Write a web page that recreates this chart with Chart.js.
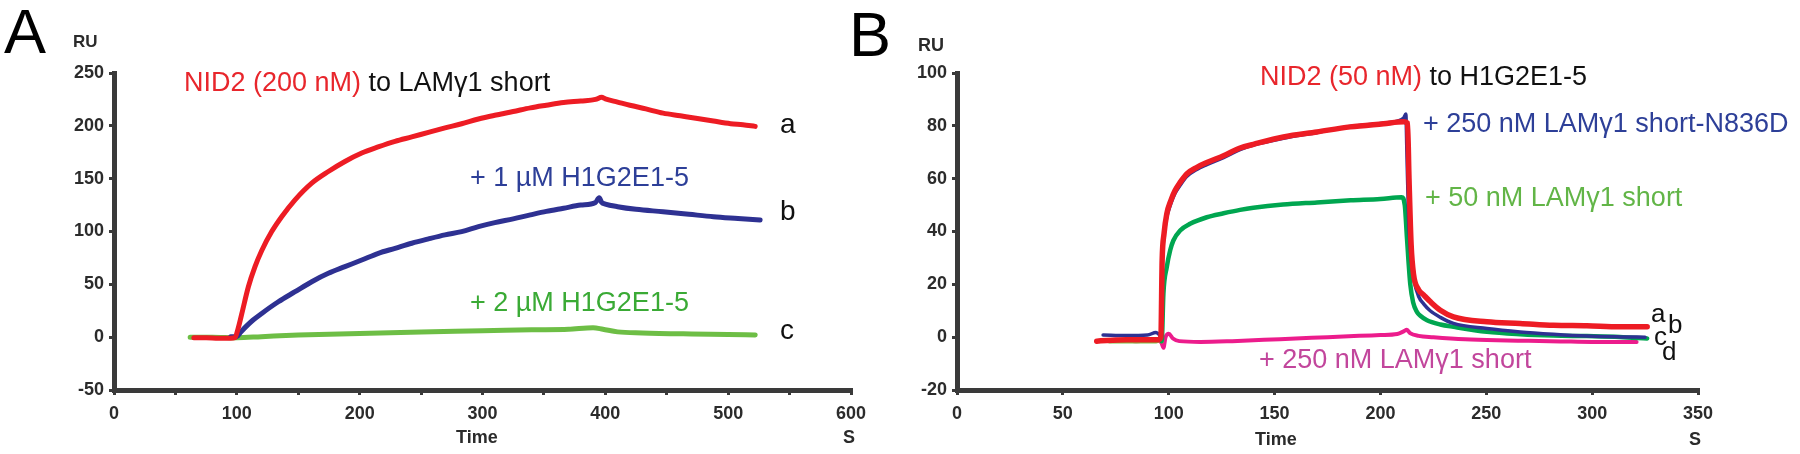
<!DOCTYPE html>
<html>
<head>
<meta charset="utf-8">
<script src="https://cdn.jsdelivr.net/npm/chart.js@4.4.1/dist/chart.umd.min.js"></script>
<style>
  html, body { margin:0; padding:0; background:#fff; }
  #wrap { position:relative; width:1800px; height:454px; overflow:hidden; background:#fff; }
  canvas { position:absolute; top:0; }
  .t { position:absolute; white-space:nowrap; line-height:1; font-family:'Liberation Sans', Arial, sans-serif; }
  .ann { font-size:27px; }
  .lbl { font-size:18px; font-weight:bold; color:#2b2b2b; }
  .big { font-size:63px; color:#000; }
</style>
</head>
<body>
<div id="wrap">
  <canvas id="cA" width="900" height="454" style="left:0"></canvas>
  <canvas id="cB" width="900" height="454" style="left:900px"></canvas>

  <div class="t big" style="left:4px;top:0px">A</div>
  <div class="t big" style="left:849px;top:3px">B</div>

  <div class="t lbl" style="left:73px;top:33px;font-size:17px">RU</div>
  <div class="t lbl" style="left:918px;top:36px">RU</div>
  <div class="t lbl" style="left:456px;top:428px">Time</div>
  <div class="t lbl" style="left:843px;top:428px">S</div>
  <div class="t lbl" style="left:1255px;top:430px">Time</div>
  <div class="t lbl" style="left:1689px;top:430px">S</div>

  <div class="t ann" style="left:184px;top:69px"><span style="color:#e8262c">NID2 (200 nM)</span><span style="color:#111"> to LAMγ1 short</span></div>
  <div class="t ann" style="left:470px;top:164px;color:#2d3f98">+ 1 µM H1G2E1-5</div>
  <div class="t ann" style="left:470px;top:289px;color:#3aaa35">+ 2 µM H1G2E1-5</div>
  <div class="t ann" style="left:780px;top:110px;color:#111;font-size:28px">a</div>
  <div class="t ann" style="left:780px;top:197px;color:#111;font-size:28px">b</div>
  <div class="t ann" style="left:780px;top:316px;color:#111;font-size:28px">c</div>

  <div class="t ann" style="left:1260px;top:63px"><span style="color:#e8262c">NID2 (50 nM)</span><span style="color:#111"> to H1G2E1-5</span></div>
  <div class="t ann" style="left:1423px;top:110px;color:#2d3f98">+ 250 nM LAMγ1 short-N836D</div>
  <div class="t ann" style="left:1425px;top:184px;color:#62b547">+ 50 nM LAMγ1 short</div>
  <div class="t ann" style="left:1259px;top:346px;color:#c2469c">+ 250 nM LAMγ1 short</div>
  <div class="t ann" style="left:1651px;top:300px;color:#111;font-size:26px">a</div>
  <div class="t ann" style="left:1668px;top:311px;color:#111;font-size:26px">b</div>
  <div class="t ann" style="left:1654px;top:323px;color:#111;font-size:26px">c</div>
  <div class="t ann" style="left:1662px;top:338px;color:#111;font-size:26px">d</div>
</div>
<script>
// ---------- Panel A data (Time in s, response in RU) ----------
const aTimeRed = [65, 75, 85, 95, 98.5, 101, 104, 109.4, 114.8, 120.3, 128.4, 136.5, 147.4, 161, 174.5, 188, 201.7, 215, 228.8, 242.4, 256, 269.5, 283, 296.7, 310, 325, 339, 352, 366, 380, 392, 397, 400, 410, 420, 433, 447, 461, 475, 488, 502, 512, 522];
const aRed     = [-0.5, -0.5, -1, -1, -0.5, 8, 22, 47.7, 66.7, 82, 99.9, 114, 130, 145.8, 156.8, 166.3, 174.3, 180, 185.3, 189.5, 193.8, 198, 202, 206.5, 210, 213.5, 217, 219.5, 222, 223.5, 225, 227, 225.5, 222.5, 219.5, 216, 212, 209.5, 207, 204.5, 202, 201, 199.5];
const aTimeBlue = [95, 100, 103, 107, 113, 120.3, 133.8, 147.4, 161, 174.5, 188, 201.7, 215.2, 228.8, 242.4, 256, 269.5, 283, 296.7, 310, 325, 339, 352, 366, 380, 392, 395, 397, 400, 410, 425, 447, 468, 488, 508, 526];
const aBlue     = [0.5, 0.5, 4.5, 9.5, 16, 22.5, 33.5, 43, 52.5, 60.4, 66.7, 73, 79.4, 84.1, 88.9, 93, 96.8, 99.9, 104.6, 108.4, 112, 115.7, 119, 122, 125, 127.5, 132, 127.5, 126, 123.5, 121, 118.7, 116.3, 114, 112.3, 110.8];
const aTimeGreen = [62, 80, 100, 120, 150, 200, 250, 300, 340, 370, 390, 398, 410, 430, 470, 500, 522];
const aGreen     = [0, 0, -0.5, 0.5, 2, 3.5, 5, 6, 7, 7.5, 9, 7.5, 5, 4, 3, 2.5, 2];
const aXTicks = [0, 100, 200, 300, 400, 500, 600];
const aYTicks = [-50, 0, 50, 100, 150, 200, 250];

// ---------- Panel B data ----------
const bTimeRed = [66, 80, 95, 96.3, 96.9, 97.8, 99.1, 101, 103, 105.4, 108.5, 113.3, 118, 125.9, 133.7, 140, 154.2, 170, 185.7, 201.5, 211, 212.8, 213.5, 214.5, 215.6, 218, 220.4, 223.5, 228.3, 234.5, 250.3, 266, 281.7, 297.5, 313, 326];
const bRed     = [-1.5, -1, -1, 0, 29.1, 39.2, 46.7, 51.7, 55.5, 58.6, 61.8, 64.3, 66.1, 68.7, 71.6, 73, 75.8, 77.7, 79.6, 80.8, 81.5, 81, 60, 35, 24, 18, 16, 13.5, 10.2, 7.7, 5.8, 5.2, 4.5, 4.3, 3.9, 3.9];
const bTimeBlue = [69, 80, 90, 94, 95.5, 96.3, 96.8, 97.6, 99, 101, 103, 105.4, 108.5, 113.3, 118, 125.9, 133.7, 140, 154.2, 170, 185.7, 201.5, 208, 211, 212, 212.5, 213.3, 214.5, 216, 218, 220.5, 223.5, 228.3, 234.5, 250.3, 266, 281.7, 297.5, 313, 325];
const bBlue     = [0.8, 0.6, 0.8, 1.8, 1, 0, 26, 37, 45, 50.5, 54.5, 57.5, 60.8, 63.5, 65.3, 68, 71, 72.7, 75.3, 77.5, 79.8, 81, 81.8, 83, 84.5, 70, 45, 30, 21, 15.5, 12.5, 10, 7.5, 5.2, 3.3, 2, 1.1, 0.4, 0.1, 0];
const bTimeGreen = [72, 85, 94, 96, 96.7, 97.5, 99.1, 100.7, 102.2, 105.4, 110.1, 118, 125.9, 133.7, 140, 154, 170, 186, 200, 210, 211.5, 212.5, 214.1, 215.5, 217.3, 219, 222, 228.3, 234.5, 250.3, 266, 281.7, 297.5, 313, 326];
const bGreen     = [-1.5, -1.5, -1.5, -1, -1.5, 16.6, 26.6, 32.9, 36.6, 40.4, 42.9, 45.4, 46.9, 48.2, 49, 50.2, 51, 51.8, 52.3, 53, 50, 38, 20, 13, 9.5, 8, 6.4, 4.8, 3.9, 2, 1.1, 0.6, 0.4, 0.1, -0.5];
const bTimeMag = [66, 75, 85, 94, 96.5, 97.5, 98.5, 100, 102, 105, 115, 130, 145, 160, 175, 190, 200, 208, 211, 212.5, 214, 218, 225, 240, 255, 270, 285, 300, 312, 321];
const bMag     = [-1.5, -1, -1.5, -1.2, -2, -4, 0, 1.3, -0.5, -1.5, -1.8, -1.5, -1, -0.5, 0, 0.5, 0.8, 1.2, 2.2, 2.8, 1.5, 0.5, 0, -0.8, -1.2, -1.4, -1.6, -1.8, -1.8, -1.8];
const bXTicks = [0, 50, 100, 150, 200, 250, 300, 350];
const bYTicks = [-20, 0, 20, 40, 60, 80, 100];

const AXIS = '#3a3a3a';
const pts = (xs, ys) => xs.map((x, i) => ({ x, y: ys[i] }));
const line = (label, xs, ys, color, w, extra) => Object.assign({
  label, data: pts(xs, ys), borderColor: color, borderWidth: w,
  pointRadius: 0, fill: false, cubicInterpolationMode: 'monotone', borderCapStyle: 'round', borderJoinStyle: 'round'
}, extra || {});

function makeChart(id, datasets, xr, yr, xTicks, yTicks, xStep, pad, yw) {
  return new Chart(document.getElementById(id), {
    type: 'line',
    data: { datasets },
    options: {
      responsive: false, animation: false, events: [],
      layout: { padding: pad },
      plugins: { legend: { display: false }, tooltip: { enabled: false } },
      scales: {
        x: {
          type: 'linear', min: xr[0], max: xr[1],
          afterFit: s => { s.height = 64; },
          afterBuildTicks: s => { s.ticks = []; for (let v = xr[0]; v <= xr[1]; v += xStep) s.ticks.push({ value: v }); },
          ticks: {
            autoSkip: false, maxRotation: 0, padding: 8, color: '#2b2b2b',
            font: { family: 'Liberation Sans', weight: 'bold', size: 18 },
            callback: v => xTicks.includes(v) ? String(v) : ''
          },
          grid: { drawOnChartArea: false, drawTicks: true, tickLength: 5, color: AXIS, lineWidth: 3 },
          border: { display: true, color: AXIS, width: 5 }
        },
        y: {
          type: 'linear', min: yr[0], max: yr[1],
          afterFit: s => { s.width = yw; },
          afterBuildTicks: s => { s.ticks = yTicks.map(v => ({ value: v })); },
          ticks: {
            autoSkip: false, padding: 5, color: '#2b2b2b',
            font: { family: 'Liberation Sans', weight: 'bold', size: 18 },
            callback: v => String(v)
          },
          grid: { drawOnChartArea: false, drawTicks: true, tickLength: 5, color: AXIS, lineWidth: 3 },
          border: { display: true, color: AXIS, width: 5 }
        }
      }
    }
  });
}

makeChart('cA', [
  line('a', aTimeRed, aRed, '#ed1c24', 5),
  line('b', aTimeBlue, aBlue, '#2e3192', 5),
  line('c', aTimeGreen, aGreen, '#6dbe45', 5)
], [0, 600], [-50, 250], aXTicks, aYTicks, 50, { left: 0, top: 73, right: 49, bottom: 0 }, 114);

makeChart('cB', [
  line('a', bTimeRed, bRed, '#ed1c24', 5.5),
  line('b', bTimeBlue, bBlue, '#2e3192', 3.5),
  line('c', bTimeGreen, bGreen, '#00a650', 4.5, {
    segment: { borderColor: c => c.p1.parsed.x <= 96.7 ? '#7ac143' : '#00a650' }
  }),
  line('d', bTimeMag, bMag, '#ec1c8c', 4)
], [0, 350], [-20, 100], bXTicks, bYTicks, 50, { left: 0, top: 73, right: 102, bottom: 0 }, 57);
</script>
</body>
</html>
